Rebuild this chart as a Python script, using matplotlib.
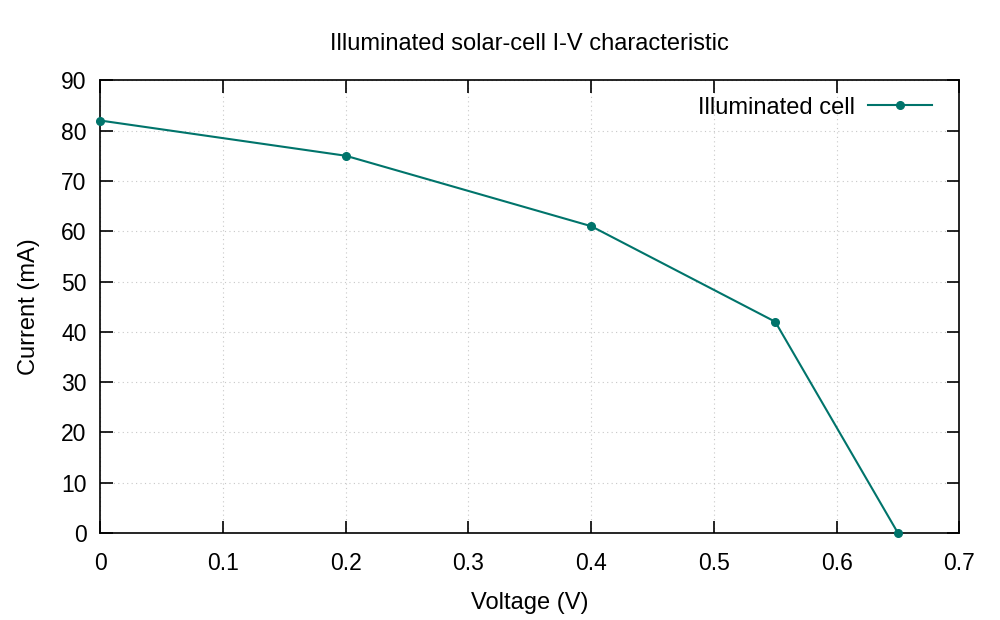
import matplotlib
matplotlib.use("Agg")
import matplotlib.pyplot as plt

# illuminated cell I-V points
voltage = [0.0, 0.2, 0.4, 0.55, 0.65]
current = [82, 75, 61, 42, 0]
xticks = [0, 0.1, 0.2, 0.3, 0.4, 0.5, 0.6, 0.7]
xtick_labels = ["0", "0.1", "0.2", "0.3", "0.4", "0.5", "0.6", "0.7"]
yticks = [0, 10, 20, 30, 40, 50, 60, 70, 80, 90]

plt.rcParams['font.family'] = ['Liberation Sans', 'DejaVu Sans']

fig = plt.figure(figsize=(10, 6.2), dpi=100)
ax = fig.add_axes([0.1003, 0.1403, 0.859, 0.7302])

ax.plot(voltage, current, color='#00746b', lw=1.5, marker='o', ms=5.5,
        label='Illuminated cell', clip_on=False, zorder=3)

ax.set_xlim(0, 0.7)
ax.set_ylim(0, 90)
ax.set_xticks(xticks)
ax.set_xticklabels(xtick_labels)
ax.set_yticks(yticks)

ax.grid(True, color='#c8c8c8', linestyle=(0, (1, 3)), linewidth=0.8)
ax.tick_params(direction='in', length=9, width=1.2, top=True, right=True,
               labelsize=16.5)
ax.tick_params(axis='x', pad=14)
ax.tick_params(axis='y', pad=10)
for sp in ax.spines.values():
    sp.set_linewidth(1.2)

ax.set_xlabel('Voltage (V)', fontsize=17, labelpad=12)
ax.set_ylabel('Current (mA)', fontsize=17, labelpad=15)
ax.set_title('Illuminated solar-cell I-V characteristic', fontsize=17, pad=22)

ax.legend(loc='upper right', bbox_to_anchor=(0.979, 0.985), borderaxespad=0,
          frameon=False, markerfirst=False, fontsize=17,
          handlelength=2.7, handletextpad=0.55)

fig.savefig('out.png', dpi=100)
